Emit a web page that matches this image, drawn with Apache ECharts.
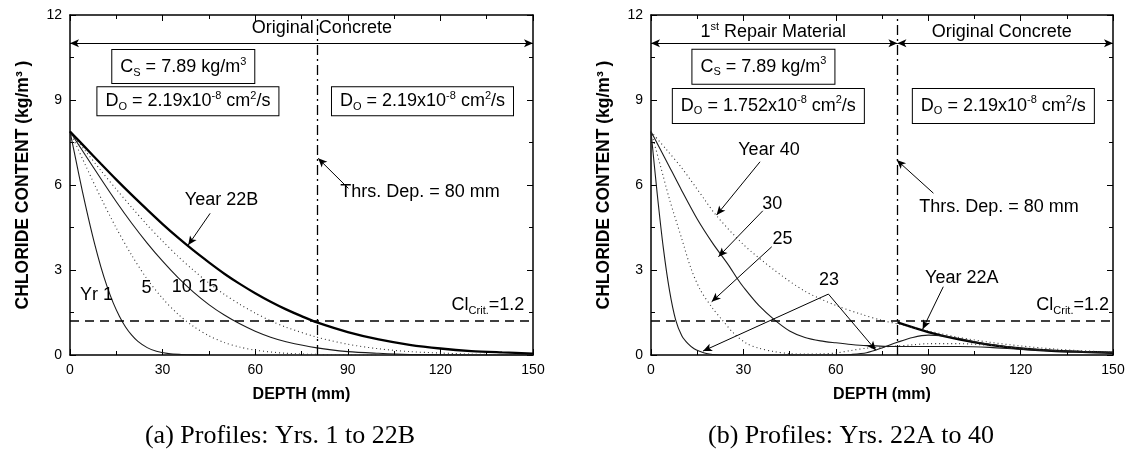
<!DOCTYPE html>
<html>
<head>
<meta charset="utf-8">
<script src="https://cdn.jsdelivr.net/npm/echarts@6/dist/echarts.min.js"></script>
<style>
  html, body { margin: 0; background: #fff; }
  #chart { width: 1131px; height: 468px; }
</style>
</head>
<body>
<div id="chart"></div>
<script>
// ---- data (depth mm, chloride kg/m3) ----
const depthTicks = [0, 30, 60, 90, 120, 150];
const contentTicks = [0, 3, 6, 9, 12];

// (a) Profiles: Yrs. 1 to 22B
const yr1 = [[0,7.89],[2,6.83],[4,5.78],[6,4.81],[8,3.91],[10,3.11],[12,2.42],[14,1.84],[16,1.37],[18,0.99],[20,0.70],[22,0.48],[25,0.26],[28,0.13],[32,0.05],[36,0.02],[40,0.005],[45,0]];
const yr5 = [[0,7.89],[5,6.70],[10,5.55],[15,4.48],[20,3.52],[25,2.68],[30,2.00],[35,1.44],[40,1.01],[45,0.68],[50,0.44],[55,0.28],[60,0.17],[70,0.06],[80,0.02],[90,0.005],[100,0]];
const yr10 = [[0,7.89],[5,7.05],[10,6.22],[15,5.41],[20,4.65],[25,3.95],[30,3.31],[35,2.73],[40,2.22],[45,1.78],[50,1.41],[55,1.10],[60,0.84],[65,0.63],[70,0.47],[80,0.25],[90,0.12],[100,0.06],[110,0.02],[120,0.01],[130,0],[150,0]];
const yr15 = [[0,7.89],[5,7.20],[10,6.51],[15,5.85],[20,5.21],[25,4.59],[30,4.02],[35,3.48],[40,2.99],[45,2.54],[50,2.14],[55,1.79],[60,1.48],[65,1.21],[70,0.98],[80,0.63],[90,0.38],[100,0.22],[110,0.12],[120,0.07],[130,0.03],[140,0.015],[150,0.01]];
const yr22B = [[0,7.89],[5,7.32],[10,6.75],[15,6.19],[20,5.65],[25,5.13],[30,4.62],[35,4.14],[40,3.69],[45,3.27],[50,2.87],[55,2.51],[60,2.18],[65,1.88],[70,1.61],[75,1.37],[80,1.15],[90,0.81],[100,0.55],[110,0.36],[120,0.23],[130,0.14],[140,0.09],[150,0.05]];

// (b) Profiles: Yrs. 22A to 40
const yr22A = [[80,1.15],[90,0.81],[100,0.55],[110,0.36],[120,0.23],[130,0.15],[140,0.11],[150,0.08]];
const yr23 = [[0,7.89],[2,5.71],[4,3.78],[6,2.28],[8,1.24],[10,0.68],[12,0.40],[14,0.22],[16,0.12],[18,0.05],[20,0.02],[25,0],[60,0],[65,0.02],[70,0.08],[75,0.25],[80,0.45],[85,0.62],[90,0.70],[95,0.67],[100,0.58],[105,0.47],[110,0.38],[120,0.24],[130,0.16],[140,0.11],[150,0.08]];
const yr25 = [[0,7.89],[3,6.7],[6,5.5],[10,4.1],[13,3.05],[16,2.3],[20,1.65],[23,1.25],[27,0.75],[31,0.41],[35,0.24],[40,0.12],[45,0.05],[50,0.03],[55,0.04],[60,0.07],[65,0.16],[70,0.24],[78,0.3],[85,0.36],[90,0.4],[100,0.4],[110,0.34],[120,0.24],[130,0.17],[140,0.12],[150,0.09]];
const yr30 = [[0,7.89],[5,6.85],[10,5.8],[15,4.8],[20,3.95],[25,3.2],[28,2.7],[30,2.4],[35,1.75],[40,1.25],[45,0.85],[50,0.62],[55,0.5],[60,0.43],[65,0.37],[70,0.33],[80,0.3],[90,0.3],[100,0.3],[110,0.27],[120,0.2],[130,0.15],[140,0.11],[150,0.08]];
const yr40 = [[0,7.89],[5,7.25],[10,6.6],[17.5,5.47],[21,4.95],[30,3.9],[40,3.0],[50,2.25],[60,1.75],[68,1.45],[75,1.22],[80,1.1],[90,0.85],[100,0.62],[110,0.45],[120,0.32],[130,0.22],[140,0.15],[150,0.1]];

const CRIT = 1.2;
const THRESHOLD = 80;

// ---- styling helpers ----
const FONT = '"Liberation Sans", Arial, sans-serif';
const SERIF = '"Liberation Serif", "Times New Roman", serif';
const rich = {
  sub: { fontSize: 11, fontFamily: FONT, color: '#000', verticalAlign: 'bottom', lineHeight: 12 },
  sup: { fontSize: 11, fontFamily: FONT, color: '#000', verticalAlign: 'top', lineHeight: 12 }
};

function textMark(coord, text, pad) {
  const label = {
    show: true, position: 'inside', formatter: text, color: '#000',
    fontFamily: FONT, fontSize: 18, lineHeight: 22, rich
  };
  if (pad) Object.assign(label, { borderColor: '#000', borderWidth: 1, backgroundColor: '#fff', padding: pad });
  return { coord, label };
}

function arrow(from, to, both) {
  return [{ coord: from, symbol: both ? 'arrow' : 'none' }, { coord: to, symbol: 'arrow' }];
}

function xAxes(g) {
  const base = {
    gridIndex: g, type: 'value', min: 0, max: 150, interval: 30,
    axisLine: { onZero: false, lineStyle: { color: '#000', width: 1.5 } },
    axisTick: { inside: true, length: 6, lineStyle: { color: '#000', width: 1 } },
    minorTick: { show: true, splitNumber: 2, length: 4, lineStyle: { color: '#000', width: 1 } },
    splitLine: { show: false }
  };
  return [
    Object.assign({}, base, {
      position: 'bottom',
      axisLabel: { color: '#000', fontSize: 14, fontFamily: FONT, margin: 8 },
      name: 'DEPTH (mm)', nameLocation: 'middle', nameGap: 32,
      nameTextStyle: { color: '#000', fontWeight: 'bold', fontSize: 16, fontFamily: FONT }
    }),
    Object.assign({}, base, { position: 'top', axisLabel: { show: false } })
  ];
}

function yAxes(g) {
  const base = {
    gridIndex: g, type: 'value', min: 0, max: 12, interval: 3,
    axisLine: { onZero: false, lineStyle: { color: '#000', width: 1.5 } },
    axisTick: { inside: true, length: 6, lineStyle: { color: '#000', width: 1 } },
    minorTick: { show: true, splitNumber: 2, length: 4, lineStyle: { color: '#000', width: 1 } },
    splitLine: { show: false }
  };
  return [
    Object.assign({}, base, {
      position: 'left',
      axisLabel: { color: '#000', fontSize: 14, fontFamily: FONT, margin: 8 },
      name: 'CHLORIDE CONTENT (kg/m³ )', nameLocation: 'middle', nameGap: 38,
      nameTextStyle: { color: '#000', fontWeight: 'bold', fontSize: 17.5, fontFamily: FONT }
    }),
    Object.assign({}, base, { position: 'right', axisLabel: { show: false } })
  ];
}

const SOLID = { color: '#1a1a1a', width: 1.1, type: 'solid' };
const DOTS = { color: '#333', width: 1.1, type: [1, 3] };
const THICK = { color: '#000', width: 2.3, type: 'solid' };

function curve(g, name, data, style) {
  return {
    name, type: 'line', xAxisIndex: g * 2, yAxisIndex: g * 2, data,
    showSymbol: false, smooth: 0.3, lineStyle: style, z: 3, silent: true
  };
}

const markLineCommon = {
  silent: true, symbolSize: [6, 9], label: { show: false },
  lineStyle: { color: '#000', width: 1, type: 'solid' }, emphasis: { disabled: true }
};

function refLines(g, arrows) {
  return {
    name: 'ref' + g, type: 'line', xAxisIndex: g * 2, yAxisIndex: g * 2, data: [],
    z: 4, silent: true,
    markLine: Object.assign({}, markLineCommon, {
      symbol: 'none',
      data: [
        [{ coord: [0, CRIT], lineStyle: { type: [9, 6], width: 1.5 } }, { coord: [150, CRIT] }],
        [{ coord: [THRESHOLD, 0], lineStyle: { type: [10, 4, 2, 4], width: 1.3 } }, { coord: [THRESHOLD, 12] }]
      ].concat(arrows)
    })
  };
}

function labels(g, items) {
  return {
    name: 'lbl' + g, type: 'scatter', xAxisIndex: g * 2, yAxisIndex: g * 2, data: [],
    z: 6, silent: true,
    markPoint: { symbol: 'circle', symbolSize: 1, itemStyle: { color: 'rgba(0,0,0,0)' }, data: items }
  };
}

const captionStyle = { fontFamily: SERIF, fontSize: 26, fill: '#000', align: 'center', verticalAlign: 'middle' };

const option = {
  animation: false,
  backgroundColor: '#fff',
  grid: [
    { left: 70, right: 598, top: 15, bottom: 113 },
    { left: 651, right: 18, top: 15, bottom: 113 }
  ],
  xAxis: xAxes(0).concat(xAxes(1)),
  yAxis: yAxes(0).concat(yAxes(1)),
  graphic: [
    { type: 'text', x: 280, y: 436, style: Object.assign({ text: '(a) Profiles: Yrs. 1 to 22B' }, captionStyle) },
    { type: 'text', x: 851, y: 436, style: Object.assign({ text: '(b) Profiles: Yrs. 22A to 40' }, captionStyle) }
  ],
  series: [
    // ---- panel (a) ----
    curve(0, 'Yr 1', yr1, SOLID),
    curve(0, '5', yr5, DOTS),
    curve(0, '10', yr10, SOLID),
    curve(0, '15', yr15, DOTS),
    curve(0, 'Year 22B', yr22B, THICK),
    refLines(0, [
      arrow([0, 11], [150, 11], true),
      arrow([90.2, 5.88], [80.4, 6.94]),
      arrow([45.4, 5.0], [38.3, 3.88])
    ]),
    labels(0, [
      textMark([81.6, 11.54], 'Original Concrete'),
      textMark([36.7, 10.18], 'C{sub|S} = 7.89 kg/m{sup|3}', [6, 8, 5, 8]),
      textMark([38.2, 8.96], 'D{sub|O} = 2.19x10{sup|-8} cm{sup|2}/s', [3, 8, 3, 8]),
      textMark([114.2, 8.96], 'D{sub|O} = 2.19x10{sup|-8} cm{sup|2}/s', [3, 8, 3, 8]),
      textMark([113.4, 5.76], 'Thrs. Dep. = 80 mm'),
      textMark([49.1, 5.47], 'Year 22B'),
      textMark([8.6, 2.12], 'Yr 1'),
      textMark([24.8, 2.35], '5'),
      textMark([36.2, 2.41], '10'),
      textMark([44.8, 2.41], '15'),
      textMark([135.4, 1.76], 'Cl{sub|Crit.}=1.2')
    ]),
    // ---- panel (b) ----
    curve(1, 'Year 22A', yr22A, THICK),
    curve(1, '23', yr23, SOLID),
    curve(1, '25', yr25, DOTS),
    curve(1, '30', yr30, SOLID),
    curve(1, 'Year 40', yr40, DOTS),
    refLines(1, [
      arrow([0, 11], [THRESHOLD, 11], true),
      arrow([THRESHOLD, 11], [150, 11], true),
      arrow([91.7, 5.71], [79.8, 6.88]),
      arrow([35.4, 6.82], [21.3, 4.94]),
      arrow([36.3, 5.09], [21.9, 3.47]),
      arrow([39.2, 3.82], [19.7, 1.88]),
      arrow([57.6, 2.15], [16.9, 0.14]),
      arrow([57.6, 2.15], [73, 0.17]),
      arrow([94.9, 2.41], [88.2, 0.91])
    ]),
    labels(1, [
      textMark([39.7, 11.4], '1{sup|st} Repair Material'),
      textMark([113.9, 11.4], 'Original Concrete'),
      textMark([36.5, 10.17], 'C{sub|S} = 7.89 kg/m{sup|3}', [6, 8, 6, 8]),
      textMark([38.1, 8.79], 'D{sub|O} = 1.752x10{sup|-8} cm{sup|2}/s', [6, 8, 6, 8]),
      textMark([114.4, 8.79], 'D{sub|O} = 2.19x10{sup|-8} cm{sup|2}/s', [6, 8, 6, 8]),
      textMark([113, 5.23], 'Thrs. Dep. = 80 mm'),
      textMark([38.3, 7.24], 'Year 40'),
      textMark([39.4, 5.33], '30'),
      textMark([42.7, 4.08], '25'),
      textMark([57.8, 2.65], '23'),
      textMark([100.9, 2.71], 'Year 22A'),
      textMark([136.9, 1.76], 'Cl{sub|Crit.}=1.2')
    ])
  ]
};

const chart = echarts.init(document.getElementById('chart'), null, { renderer: 'canvas' });
chart.setOption(option);
</script>
</body>
</html>
